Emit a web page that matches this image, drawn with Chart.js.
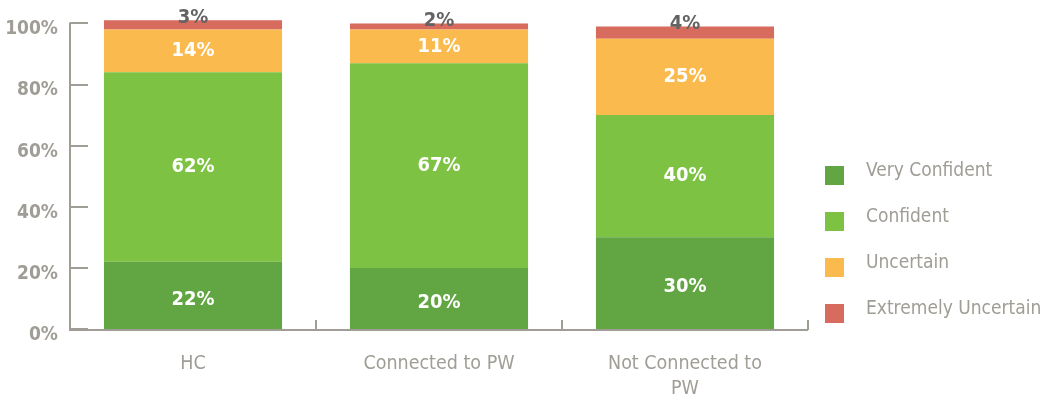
<!DOCTYPE html>
<html><head><meta charset="utf-8">
<script src="https://cdn.jsdelivr.net/npm/chart.js@4/dist/chart.umd.min.js"></script>
<style>html,body{margin:0;padding:0;background:#fff}#wrap{width:1048px;height:401px;position:relative}</style>
</head><body><div id="wrap"><canvas id="c" width="1048" height="401"></canvas></div>
<script>
const categories = ['HC', 'Connected to PW', ['Not Connected to', 'PW']];
const seriesNames = ['Very Confident', 'Confident', 'Uncertain', 'Extremely Uncertain'];
const veryConfident = [22, 20, 30];
const confident = [62, 67, 40];
const uncertain = [14, 11, 25];
const extremelyUncertain = [3, 2, 4];
const yTicks = [0, 20, 40, 60, 80, 100];
const colors = ['#62A543', '#7DC242', '#FBBA4E', '#D66B5E'];
const GRAY = '#A09D96';
const FONT = '"DejaVu Sans Condensed", "Liberation Sans", sans-serif';

const seriesValues = [veryConfident, confident, uncertain, extremelyUncertain];

const axisPlugin = {
  id: 'axes',
  afterDatasetsDraw(chart) {
    const {ctx, scales: {x, y}, chartArea: a} = chart;
    ctx.save();
    ctx.strokeStyle = GRAY; ctx.lineWidth = 2;
    const y0 = y.getPixelForValue(0) + 1;
    ctx.beginPath();
    ctx.moveTo(a.left, y.getPixelForValue(100) - 1); ctx.lineTo(a.left, y0);
    ctx.lineTo(a.right, y0); ctx.stroke();
    yTicks.forEach(v => {
      const py = Math.round(y.getPixelForValue(v));
      ctx.beginPath(); ctx.moveTo(a.left, py); ctx.lineTo(a.left + 18, py); ctx.stroke();
    });
    const n = categories.length;
    for (let i = 0; i <= n; i++) {
      const px = i === n ? a.right : (i === 0 ? a.left : (x.getPixelForValue(i - 1) + x.getPixelForValue(i)) / 2);
      ctx.beginPath(); ctx.moveTo(px, y0); ctx.lineTo(px, y0 - 10); ctx.stroke();
    }
    // data labels
    ctx.textAlign = 'center'; ctx.textBaseline = 'middle';
    ctx.font = 'bold 20px ' + FONT;
    chart.data.datasets.forEach((ds, di) => {
      const meta = chart.getDatasetMeta(di);
      meta.data.forEach((bar, i) => {
        const v = ds.data[i];
        if (di === 3) {
          ctx.fillStyle = '#636363';
          ctx.fillText(v + '%', bar.x, bar.y - 3);
        } else {
          ctx.fillStyle = '#ffffff';
          ctx.fillText(v + '%', bar.x, (bar.y + bar.base) / 2 + (di === 0 ? 4 : 0));
        }
      });
    });
    // legend
    ctx.textAlign = 'left';
    ctx.font = '19px ' + FONT;
    chart.data.datasets.forEach((ds, di) => {
      const top = 166 + di * 46;
      ctx.fillStyle = ds.backgroundColor;
      ctx.fillRect(825, top, 19, 19);
      ctx.fillStyle = GRAY;
      ctx.fillText(ds.label, 866, top + 5);
    });
    ctx.restore();
  }
};

new Chart(document.getElementById('c'), {
  type: 'bar',
  data: {
    labels: categories,
    datasets: seriesNames.map((name, i) => ({
      label: name, data: seriesValues[i], backgroundColor: colors[i],
      barPercentage: 0.724, categoryPercentage: 1, borderWidth: 0, clip: false
    }))
  },
  options: {
    responsive: false, animation: false,
    layout: {padding: {top: 23, right: 240, left: 0, bottom: 0}},
    plugins: {legend: {display: false}, tooltip: {enabled: false}},
    scales: {
      x: {
        stacked: true,
        grid: {display: false}, border: {display: false},
        ticks: {color: GRAY, font: {family: FONT, size: 19.5, lineHeight: 1.25}, padding: 15, maxRotation: 0},
        afterFit(s) { s.height = 72; }
      },
      y: {
        stacked: true, min: 0, max: 100,
        grid: {display: false, drawTicks: false}, border: {display: false},
        afterBuildTicks(s) { s.ticks = yTicks.map(v => ({value: v})); },
        ticks: {color: GRAY, font: {family: FONT, size: 19, weight: 'bold'}, padding: 12, labelOffset: 6,
          callback: v => v + '%'},
        afterFit(s) { s.width = 70; }
      }
    }
  },
  plugins: [axisPlugin]
});
</script></body></html>
